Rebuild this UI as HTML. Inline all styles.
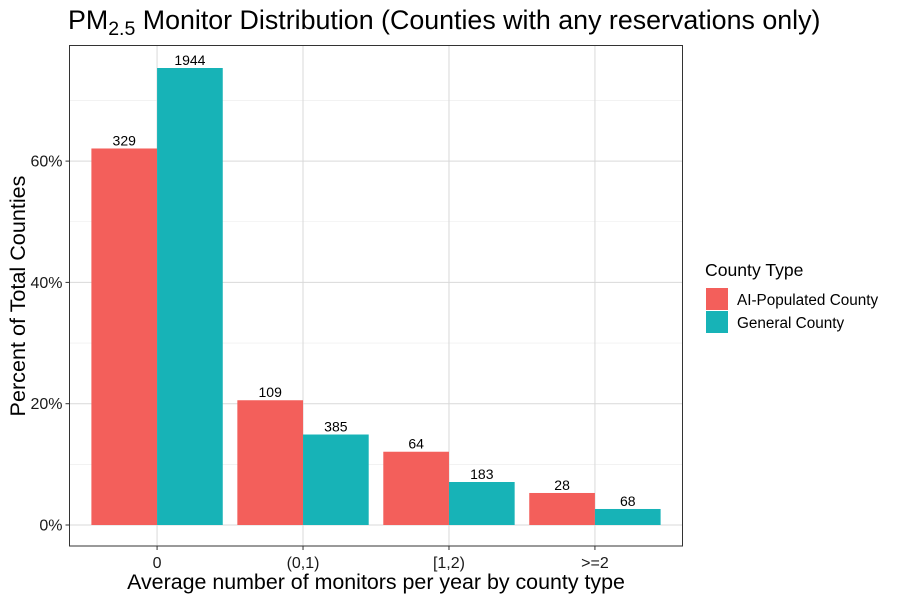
<!DOCTYPE html>
<html><head><meta charset="utf-8"><style>
body{margin:0;background:#fff;}
svg{font-family:"Liberation Sans",Arial,sans-serif;display:block}
</style></head><body>
<svg id="chart" width="900" height="600">
<text x="68" y="29" font-size="26.8" fill="#000">PM<tspan font-size="19.5" dy="6">2.5</tspan><tspan dy="-6"> Monitor Distribution (Counties with any reservations only)</tspan></text>
<g id="grid"></g>
<g id="bars"></g>
<g id="labels"></g>
<rect x="69.5" y="45.5" width="613" height="500.5" fill="none" stroke="#333" stroke-width="1"/>
<g id="axes"></g>
<text x="376" y="589" font-size="21.4" text-anchor="middle">Average number of monitors per year by county type</text>
<text transform="translate(25,296) rotate(-90)" font-size="21.6" text-anchor="middle">Percent of Total Counties</text>
<g>
<text x="705" y="276" font-size="17.6">County Type</text>
<rect x="706" y="288" width="22" height="22" fill="#F35F5B"/>
<text x="737" y="305" font-size="15.3">AI-Populated County</text>
<rect x="706" y="311" width="22" height="22" fill="#17B3B7"/>
<text x="737" y="328" font-size="15.3">General County</text>
</g>
</svg>
<script>
const categories=["0","(0,1)","[1,2)",">=2"];
const aiPct=[62.08,20.57,12.08,5.28];
const genPct=[75.35,14.92,7.09,2.64];
const aiCounts=[329,109,64,28];
const genCounts=[1944,385,183,68];
const yTicks=[0,20,40,60];
const yMinor=[10,30,50,70];
const NS="http://www.w3.org/2000/svg";
const px0=69.5,px1=682.5,py0=45.5,py1=546;
const y=v=>525-v*6.065;
const bw=(px1-px0)/(categories.length+0.2);
const xc=i=>px0+(i+0.6)*bw;
function el(t,a,p){const e=document.createElementNS(NS,t);for(const k in a)e.setAttribute(k,a[k]);document.getElementById(p).appendChild(e);return e;}
yMinor.forEach(v=>{const l=el('line',{x1:px0,x2:px1,y1:y(v),y2:y(v),stroke:'#ebebeb','stroke-width':0.6},'grid');

});
yTicks.forEach(v=>{const l=el('line',{x1:px0,x2:px1,y1:y(v),y2:y(v),stroke:'#d9d9d9','stroke-width':1},'grid');


const t=el('line',{x1:px0-4,x2:px0,y1:y(v),y2:y(v),stroke:'#333'},'axes');


const tx=el('text',{x:px0-7,y:y(v)+5.5,'font-size':16,'text-anchor':'end',fill:'#1a1a1a'},'axes');tx.textContent=v+'%';

});
categories.forEach((c,i)=>{const l=el('line',{x1:xc(i),x2:xc(i),y1:py0,y2:py1,stroke:'#d9d9d9'},'grid');


const t=el('line',{x1:xc(i),x2:xc(i),y1:py1,y2:py1+4,stroke:'#333'},'axes');


const tx=el('text',{x:xc(i),y:py1+22,'font-size':16,'text-anchor':'middle',fill:'#1a1a1a'},'axes');tx.textContent=c;


const w=bw*0.45;
[[aiPct,aiCounts,'#F35F5B',-1,'ai'],[genPct,genCounts,'#17B3B7',0,'general']].forEach(([d,n,col,o,nm])=>{
const x0=xc(i)+o*w;
const r=el('rect',{x:x0,y:y(d[i]),width:w,height:y(0)-y(d[i]),fill:col},'bars');


const lb=el('text',{x:x0+w/2,y:y(d[i])-3,'font-size':14,'text-anchor':'middle'},'labels');lb.textContent=n[i];

});});
</script>
</body></html>
